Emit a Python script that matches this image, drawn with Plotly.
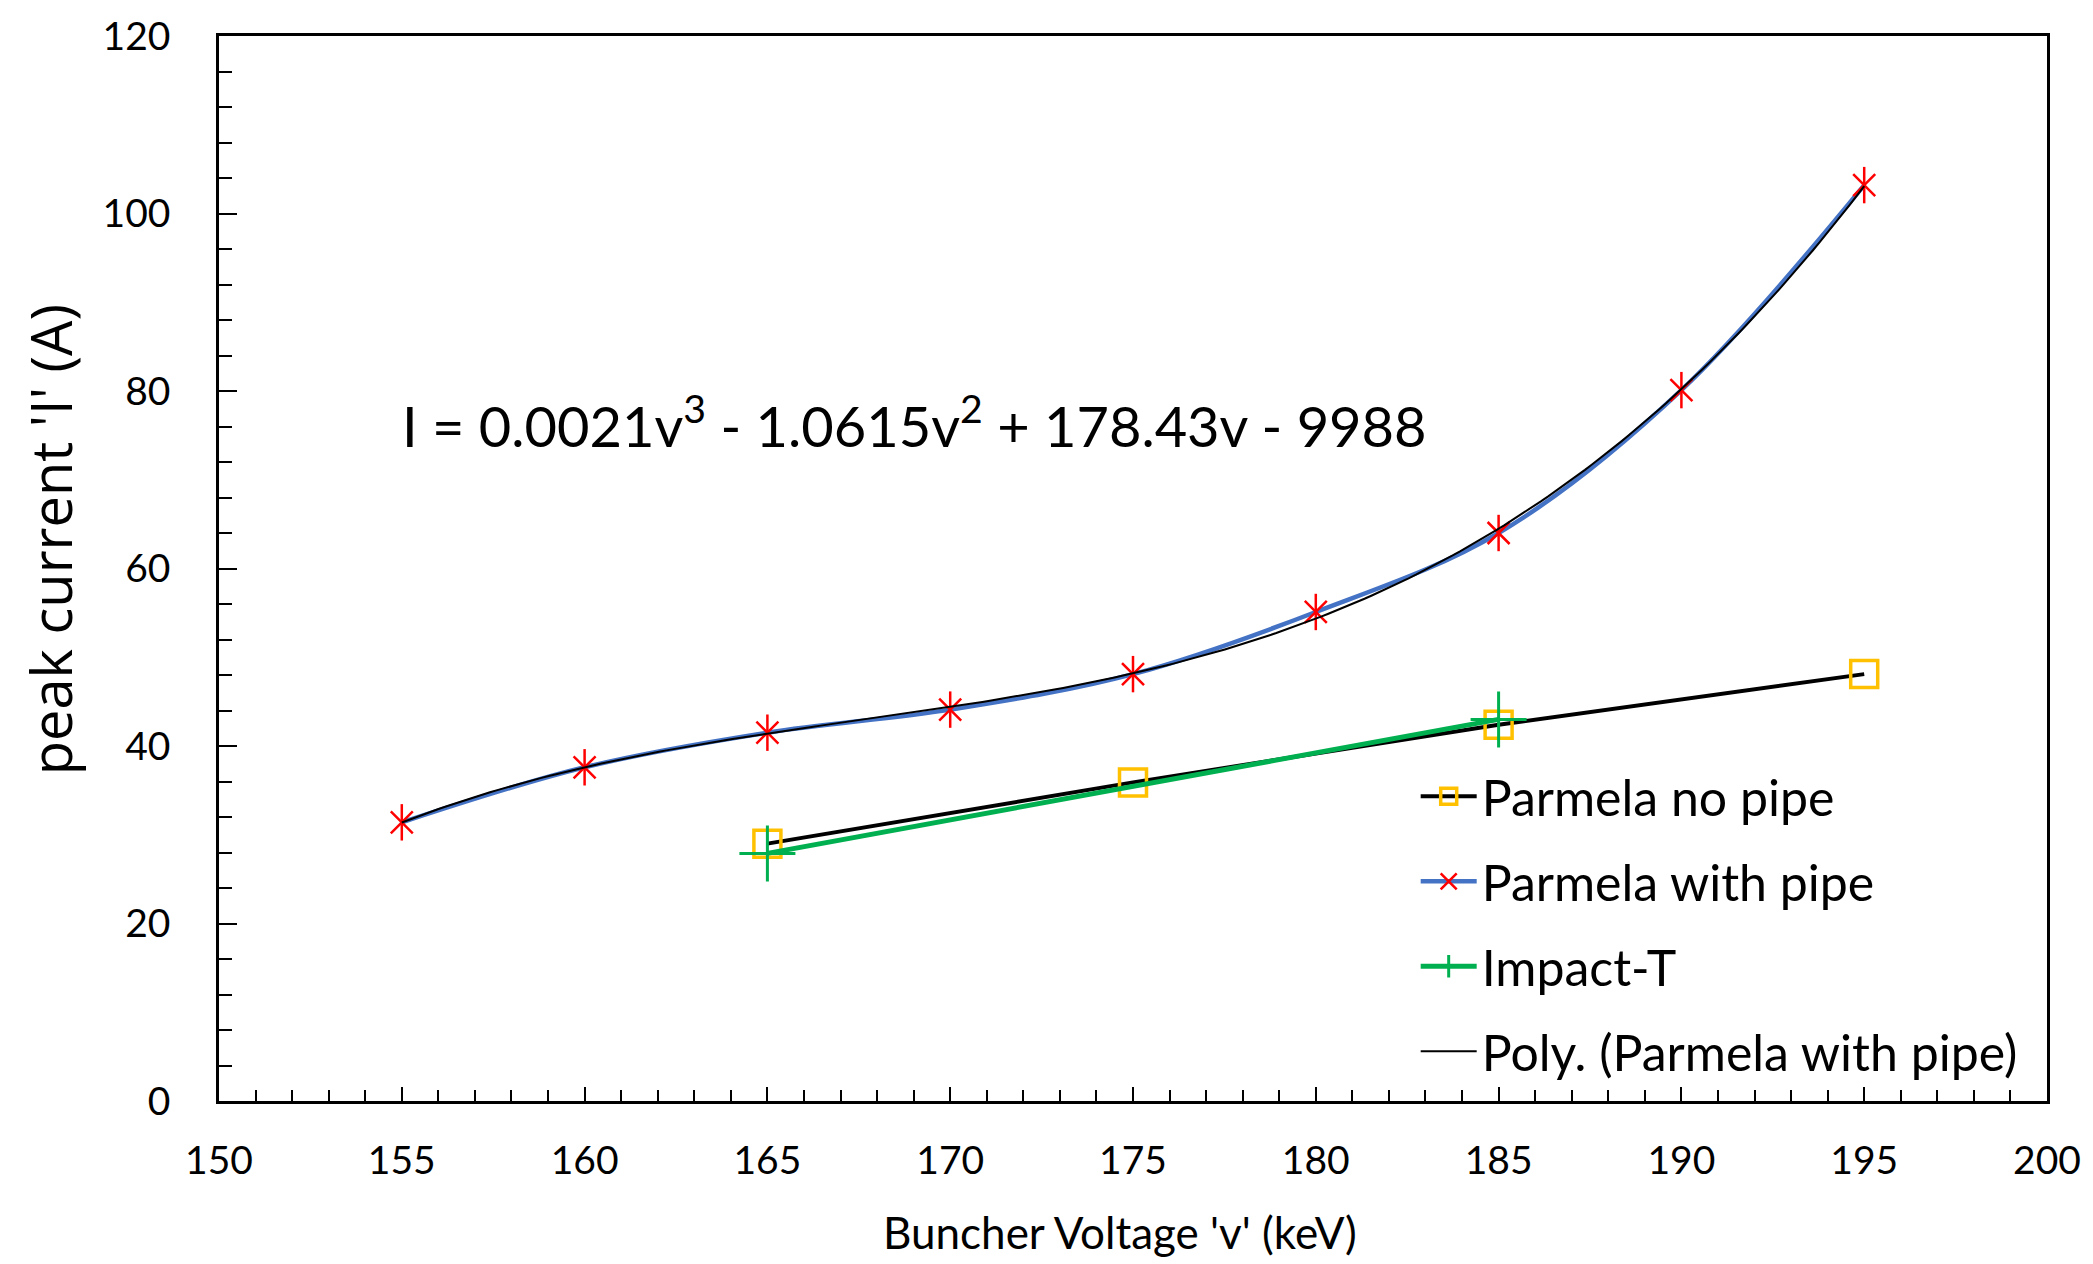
import numpy as np
import plotly.graph_objects as go

# ---- data ----
v_pipe = [155, 160, 165, 170, 175, 180, 185, 190, 195]
i_pipe = [31.4, 37.6, 41.5, 44.1, 48.1, 55.1, 64.0, 80.1, 103.2]

v_nopipe = [165, 175, 185, 195]
i_nopipe = [29.0, 35.9, 42.4, 48.1]

v_impact = [165, 185]
i_impact = [27.9, 43.0]

x_ticks = [150, 155, 160, 165, 170, 175, 180, 185, 190, 195, 200]
y_ticks = [0, 20, 40, 60, 80, 100, 120]

equation_text = "I = 0.0021v<sup>3</sup> - 1.0615v<sup>2</sup> + 178.43v - 9988"

# cubic trendline of "Parmela with pipe" (as Excel's Poly. trendline)
coef = np.polyfit(v_pipe, i_pipe, 3)
v_fit = np.linspace(min(v_pipe), max(v_pipe), 200)
i_fit = np.polyval(coef, v_fit)

W, H = 2093, 1264
L, R, T, B = 219, 44, 32, 163

FONT = "Lato"
RED = "#FF0000"
BLUE = "#4472C4"
GREEN = "#00B050"
GOLD = "#FFC000"

fig = go.Figure()

fig.add_trace(go.Scatter(
    x=v_nopipe, y=i_nopipe, name="Parmela no pipe", legendgroup="a",
    mode="lines+markers",
    line=dict(color="black", width=4),
    marker=dict(symbol="square-open", size=27, color=GOLD, line=dict(color=GOLD, width=3.5)),
))

fig.add_trace(go.Scatter(
    x=v_pipe, y=i_pipe, name="Parmela with pipe", legendgroup="b",
    mode="lines+markers",
    line=dict(color=BLUE, width=4.5, shape="spline"),
    marker=dict(symbol="x-thin-open", size=22, color=RED, line=dict(color=RED, width=2.5)),
))
fig.add_trace(go.Scatter(
    x=v_pipe, y=i_pipe, name="Parmela with pipe", legendgroup="b", showlegend=False,
    mode="markers",
    marker=dict(symbol="line-ns-open", size=26, color=RED, line=dict(color=RED, width=2.5)),
))

fig.add_trace(go.Scatter(
    x=v_impact, y=i_impact, name="Impact-T", legendgroup="c",
    mode="lines+markers",
    line=dict(color=GREEN, width=5),
    marker=dict(symbol="cross-thin-open", size=40, color=GREEN, line=dict(color=GREEN, width=3)),
))

fig.add_trace(go.Scatter(
    x=v_fit, y=i_fit, name="Poly. (Parmela with pipe)", legendgroup="d",
    mode="lines",
    line=dict(color="black", width=2),
))

axis_common = dict(
    showline=True, linecolor="black", linewidth=2.5, mirror=True,
    showgrid=False, zeroline=False,
    ticks="inside", tickcolor="black", tickwidth=2,
    tickfont=dict(family=FONT, size=39, color="black"),
)

fig.update_xaxes(
    range=[150, 200], tickvals=x_ticks, ticklen=14,
    minor=dict(dtick=1, ticks="inside", ticklen=11, tickwidth=2, tickcolor="black", showgrid=False),
    ticklabelstandoff=23,
    **axis_common,
)
fig.update_yaxes(
    range=[0, 120], tickvals=y_ticks, ticklen=18,
    minor=dict(dtick=4, ticks="inside", ticklen=13, tickwidth=2, tickcolor="black", showgrid=False),
    ticklabelstandoff=38,
    **axis_common,
)

pw = W - L - R
ph = H - T - B

fig.add_annotation(
    text=equation_text, xref="paper", yref="paper",
    x=(400 - L) / pw, y=(H - B - 419) / ph, xanchor="left", yanchor="middle",
    showarrow=False, font=dict(family=FONT, size=56, color="black"),
)
fig.add_annotation(
    text="Buncher Voltage 'v' (keV)", xref="paper", yref="paper",
    x=(1121 - L) / pw, y=(H - B - 1232) / ph, xanchor="center", yanchor="middle",
    showarrow=False, font=dict(family=FONT, size=44, color="black"),
)
fig.add_annotation(
    text="peak current 'I' (A)", xref="paper", yref="paper",
    x=(50 - L) / pw, y=(H - B - 538) / ph, xanchor="center", yanchor="middle",
    textangle=-90,
    showarrow=False, font=dict(family="Open Sans", size=56, color="black"),
)

fig.update_layout(
    width=W, height=H,
    margin=dict(l=L, r=R, t=T, b=B, pad=0),
    paper_bgcolor="white", plot_bgcolor="white",
    showlegend=True,
    legend=dict(
        x=(1417 - L) / pw, y=(H - B - 756) / ph, xanchor="left", yanchor="top",
        bgcolor="rgba(0,0,0,0)", borderwidth=0,
        font=dict(family=FONT, size=50, color="black"),
        tracegroupgap=17, itemwidth=56,
    ),
)

fig.write_html("out.html", config={"displayModeBar": False},
               post_script="document.body.style.margin='0';")
